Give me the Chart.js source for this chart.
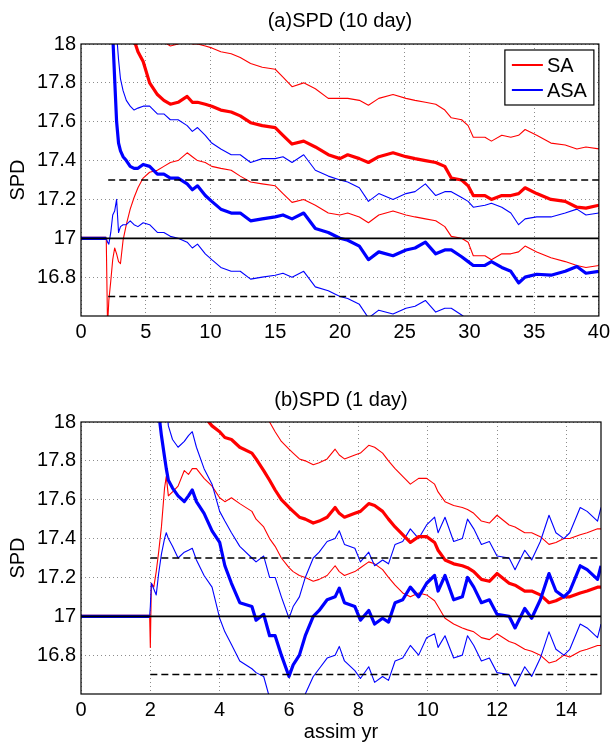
<!DOCTYPE html>
<html>
<head>
<meta charset="utf-8">
<script src="https://cdn.jsdelivr.net/npm/chart.js@4/dist/chart.umd.min.js"></script>
<style>
  html, body { margin: 0; padding: 0; background: #fff; }
  #wrap { position: relative; width: 614px; height: 742px; }
  canvas { position: absolute; left: 0; }
  #ca { top: 0; }
  #cb { top: 370px; }
</style>
</head>
<body>
<div id="wrap">
  <canvas id="ca" width="614" height="370"></canvas>
  <canvas id="cb" width="614" height="372"></canvas>
</div>
<script>
// ---------- data ----------
const TITLE_A = '(a)SPD (10 day)';
const TITLE_B = '(b)SPD (1 day)';
const Y_LABEL = 'SPD';
const X_LABEL_B = 'assim yr';
const SERIES_NAMES = ['SA', 'ASA'];

const Y_TICKS = [16.8, 17, 17.2, 17.4, 17.6, 17.8, 18];
const X_TICKS_A = [0, 5, 10, 15, 20, 25, 30, 35, 40];
const X_TICKS_B = [0, 2, 4, 6, 8, 10, 12, 14];

const TRUTH = 17;          // solid reference line
const BAND_HI = 17.3;      // dashed lines
const BAND_LO = 16.7;
const BAND_START_A = 2.1;
const BAND_START_B = 2.0;

// (a) 10-day
const X_A = [0,1.95,2.05,2.15,2.3,2.45,2.6,2.75,
 2.9,3.05,3.25,3.5,3.8,4.1,4.4,4.8,
 5.3,5.9,6.4,6.9,7.5,8.2,8.6,9.0,
 9.6,10.1,10.8,11.6,12.3,13.1,14.0,15.0,
 15.6,16.3,17.2,18.1,19.1,20.0,20.6,21.5,
 22.2,23.0,24.1,25.1,25.8,26.6,27.4,28.1,
 28.6,29.4,29.9,30.3,31.2,31.7,32.5,33.2,
 33.8,34.3,35.2,36.3,37.4,38.3,39.0,40.0];

const SA_A_MEAN = [17,17,null,null,null,null,null,null,
 null,null,null,18.4,18.15,18.02,17.96,17.91,
 17.80,17.74,17.71,17.69,17.70,17.73,17.70,17.70,
 17.69,17.68,17.66,17.65,17.63,17.595,17.58,17.57,
 17.53,17.485,17.50,17.47,17.43,17.41,17.43,17.41,
 17.39,17.42,17.44,17.42,17.41,17.40,17.39,17.37,
 17.31,17.30,17.27,17.22,17.22,17.20,17.22,17.22,
 17.23,17.26,17.23,17.20,17.19,17.16,17.155,17.17];

const SA_A_HI = [17,17,null,null,null,null,null,null,
 null,null,null,null,null,null,null,null,
 18.15,18.04,18.01,17.99,18.00,18.03,18.00,18.00,
 17.99,17.98,17.96,17.95,17.93,17.90,17.88,17.87,
 17.83,17.78,17.80,17.77,17.72,17.72,17.72,17.71,
 17.685,17.72,17.74,17.72,17.71,17.70,17.69,17.66,
 17.62,17.61,17.58,17.52,17.52,17.50,17.53,17.52,
 17.53,17.56,17.53,17.49,17.48,17.46,17.47,17.46];

const SA_A_LO = [17,17,16.55,16.68,16.78,16.89,16.95,16.92,
 16.88,16.87,16.99,17.07,17.15,17.21,17.26,17.31,
 17.34,17.35,17.37,17.39,17.40,17.44,17.42,17.40,
 17.39,17.37,17.36,17.35,17.32,17.29,17.28,17.27,
 17.23,17.185,17.20,17.17,17.13,17.12,17.13,17.11,
 17.08,17.12,17.14,17.12,17.11,17.10,17.09,17.06,
 17.01,17.00,16.98,16.91,16.91,16.89,16.92,16.92,
 16.93,16.96,16.93,16.90,16.88,16.86,16.85,16.86];

const ASA_A_MEAN = [17,17,null,null,18.5,18.05,17.82,17.6,
 17.49,17.45,17.42,17.40,17.37,17.36,17.36,17.38,
 17.37,17.33,17.33,17.31,17.31,17.28,17.25,17.27,
 17.22,17.19,17.15,17.13,17.13,17.09,17.10,17.11,
 17.12,17.10,17.13,17.05,17.03,17.00,16.99,16.96,
 16.89,16.93,16.91,16.94,16.95,16.98,16.92,16.94,
 16.94,16.905,16.88,16.86,16.86,16.88,16.85,16.83,
 16.77,16.80,16.815,16.81,16.83,16.855,16.82,16.83];

const ASA_A_HI = [17,17,null,null,null,null,18.5,18.05,
 17.92,17.82,17.76,17.71,17.68,17.66,17.67,17.68,
 17.68,17.64,17.64,17.61,17.61,17.58,17.55,17.57,
 17.53,17.49,17.46,17.43,17.43,17.39,17.41,17.41,
 17.42,17.39,17.43,17.35,17.32,17.30,17.29,17.26,
 17.19,17.23,17.20,17.23,17.24,17.28,17.22,17.24,
 17.24,17.21,17.19,17.16,17.17,17.18,17.16,17.13,
 17.07,17.10,17.11,17.11,17.13,17.15,17.12,17.13];

const ASA_A_LO = [17,17,16.98,16.97,17.03,17.12,17.14,17.20,
 17.03,17.06,17.07,17.07,17.09,17.07,17.06,17.08,
 17.07,17.03,17.03,17.01,17.00,16.98,16.95,16.97,
 16.92,16.89,16.85,16.83,16.83,16.79,16.80,16.81,
 16.82,16.80,16.83,16.75,16.73,16.70,16.69,16.66,
 16.59,16.63,16.61,16.64,16.65,16.68,16.62,16.64,
 16.64,16.605,16.58,16.56,16.56,16.58,16.55,16.53,
 16.47,16.50,16.515,16.51,16.53,16.555,16.52,16.53];

// (b) 1-day
const X_B = [0,1.98,2.0,2.03,2.1,2.17,2.24,2.32,
 2.41,2.46,2.52,2.64,2.8,2.98,3.1,3.21,
 3.33,3.55,3.78,4.0,4.15,4.34,4.58,4.93,
 5.05,5.27,5.44,5.6,5.78,6.0,6.12,6.3,
 6.47,6.7,6.87,7.1,7.33,7.45,7.6,7.9,
 8.06,8.3,8.47,8.7,8.87,9.06,9.28,9.5,
 9.74,9.97,10.2,10.3,10.5,10.75,11.0,11.15,
 11.33,11.55,11.78,12.0,12.35,12.52,12.8,13.0,
 13.25,13.5,13.7,13.93,14.1,14.4,14.6,14.9,
 15.0];

const SA_B_MEAN = [17,17,null,null,null,null,null,null,
 null,null,null,null,null,null,null,null,
 18.15,18.03,17.98,17.95,17.92,17.91,17.87,17.84,
 17.81,17.75,17.70,17.65,17.60,17.56,17.54,17.51,
 17.50,17.48,17.49,17.51,17.56,17.53,17.51,17.53,
 17.54,17.58,17.57,17.54,17.50,17.46,17.42,17.38,
 17.41,17.41,17.38,17.34,17.29,17.27,17.26,17.25,
 17.23,17.19,17.18,17.22,17.17,17.16,17.13,17.13,
 17.11,17.07,17.08,17.10,17.10,17.12,17.13,17.15,
 17.15];

const SA_B_HI = [17,17,null,null,null,null,null,null,
 null,null,null,null,null,null,null,null,
 null,null,null,null,null,null,null,null,
 null,18.1,18.0,17.95,17.90,17.86,17.84,17.81,
 17.80,17.78,17.79,17.81,17.86,17.83,17.81,17.83,
 17.84,17.88,17.87,17.84,17.80,17.76,17.72,17.68,
 17.71,17.71,17.68,17.64,17.59,17.57,17.56,17.55,
 17.53,17.49,17.48,17.52,17.47,17.46,17.43,17.43,
 17.41,17.37,17.38,17.40,17.40,17.42,17.43,17.45,
 17.45];

const SA_B_LO = [17,17,16.84,17.17,17.15,17.23,17.33,17.46,
 17.66,17.72,17.62,17.64,17.67,17.75,17.73,17.76,
 17.76,17.71,17.67,17.61,17.59,17.61,17.58,17.54,
 17.50,17.46,17.40,17.36,17.30,17.25,17.23,17.21,
 17.20,17.18,17.19,17.21,17.26,17.23,17.21,17.23,
 17.25,17.28,17.27,17.24,17.20,17.16,17.12,17.10,
 17.12,17.11,17.08,17.05,16.99,16.96,16.94,16.93,
 16.92,16.89,16.88,16.91,16.87,16.86,16.83,16.82,
 16.80,16.76,16.77,16.80,16.79,16.82,16.83,16.85,
 16.85];

const ASA_B_MEAN = [17,17,null,null,null,null,18.05,17.93,
 17.82,17.76,17.70,17.66,17.62,17.59,17.62,17.65,
 17.59,17.53,17.44,17.38,17.26,17.17,17.07,17.05,
 16.98,17.01,16.90,16.90,16.80,16.69,16.75,16.80,
 16.90,17.00,17.03,17.085,17.10,17.145,17.07,17.05,
 16.98,17.03,16.96,16.99,16.97,17.07,17.085,17.15,
 17.10,17.17,17.21,17.13,17.21,17.085,17.10,17.20,
 17.15,17.07,17.085,17.01,17.00,16.94,17.04,16.99,
 17.085,17.22,17.13,17.10,17.13,17.26,17.24,17.19,
 17.26];

const ASA_B_HI = [17,17,null,null,null,null,null,null,
 null,18.1,17.98,17.91,17.87,17.90,17.93,17.95,
 17.87,17.76,17.68,17.54,17.49,17.43,17.36,17.30,
 17.28,17.31,17.20,17.20,17.10,16.99,17.05,17.10,
 17.20,17.30,17.33,17.385,17.40,17.44,17.37,17.35,
 17.28,17.33,17.26,17.29,17.27,17.37,17.385,17.45,
 17.40,17.47,17.51,17.43,17.51,17.385,17.40,17.50,
 17.45,17.37,17.385,17.31,17.30,17.24,17.34,17.29,
 17.385,17.52,17.43,17.40,17.43,17.56,17.54,17.49,
 17.56];

const ASA_B_LO = [17,17,17.05,17.17,17.14,17.11,17.22,17.32,
 17.40,17.43,17.40,17.36,17.30,17.33,17.34,17.35,
 17.29,17.21,17.15,16.99,16.92,16.855,16.77,16.73,
 16.71,16.69,16.58,16.56,16.50,16.39,16.45,16.50,
 16.60,16.69,16.73,16.785,16.80,16.845,16.77,16.72,
 16.68,16.74,16.66,16.69,16.67,16.77,16.785,16.85,
 16.80,16.89,16.91,16.84,16.90,16.785,16.80,16.90,
 16.85,16.77,16.785,16.71,16.70,16.64,16.74,16.69,
 16.785,16.92,16.83,16.80,16.83,16.96,16.94,16.89,
 16.96];

// ---------- styling ----------
const RED = '#ff0000';
const BLUE = '#0000ff';
const FONT = '"Liberation Sans", Arial, Helvetica, sans-serif';
const FS = 20;

function pts(xs, ys) { return xs.map((x, i) => ({ x: x, y: ys[i] })); }
function hline(x0, x1, y) { return [{ x: x0, y: y }, { x: x1, y: y }]; }

function buildDatasets(X, sa, asa, bandStart) {
  const xEnd = X[X.length - 1];
  const line = (data, color, w, extra) => Object.assign({
    data: data, borderColor: color, backgroundColor: color, borderWidth: w,
    pointRadius: 0, tension: 0, fill: false, spanGaps: false, clip: 0,
    borderJoinStyle: 'round', borderCapStyle: 'butt'
  }, extra || {});
  return [
    line(hline(X[0], xEnd, TRUTH), '#000', 1.8),
    line(hline(bandStart, xEnd, BAND_HI), '#000', 1.5, { borderDash: [7, 4] }),
    line(hline(bandStart, xEnd, BAND_LO), '#000', 1.5, { borderDash: [7, 4] }),
    line(pts(X, asa[0]), BLUE, 3.2, { label: SERIES_NAMES[1] }),
    line(pts(X, sa[0]), RED, 3.2, { label: SERIES_NAMES[0] }),
    line(pts(X, asa[1]), BLUE, 1.1),
    line(pts(X, asa[2]), BLUE, 1.1),
    line(pts(X, sa[1]), RED, 1.1),
    line(pts(X, sa[2]), RED, 1.1)
  ];
}

const decor = {
  id: 'decor',
  afterDatasetsDraw(chart, args, opts) {
    const ctx = chart.ctx, ca = chart.chartArea;
    ctx.save();
    // box
    ctx.strokeStyle = '#000';
    ctx.lineWidth = 1.2;
    ctx.strokeRect(ca.left, ca.top, ca.right - ca.left, ca.bottom - ca.top);
    // title
    ctx.fillStyle = '#000';
    ctx.font = FS + 'px ' + FONT;
    ctx.textAlign = 'center';
    ctx.textBaseline = 'middle';
    ctx.fillText(opts.title, (ca.left + ca.right) / 2, opts.titleY);
    // legend
    if (opts.legend) {
      const bw = 89, bh = 55;
      const bx = ca.right - 94, by = ca.top + 6;
      ctx.fillStyle = '#fff';
      ctx.fillRect(bx, by, bw, bh);
      ctx.strokeStyle = '#000';
      ctx.lineWidth = 1.2;
      ctx.strokeRect(bx, by, bw, bh);
      const items = [[SERIES_NAMES[0], RED, by + 15], [SERIES_NAMES[1], BLUE, by + 40]];
      ctx.textAlign = 'left';
      items.forEach(function (it) {
        ctx.strokeStyle = it[1];
        ctx.lineWidth = 2;
        ctx.beginPath();
        ctx.moveTo(bx + 7, it[2]);
        ctx.lineTo(bx + 38, it[2]);
        ctx.stroke();
        ctx.fillStyle = '#000';
        ctx.fillText(it[0], bx + 42, it[2] + 1);
      });
    }
    ctx.restore();
  }
};

function fmtY(v) {
  const r = Math.round(v * 10) / 10;
  if (Math.abs(r - 16.6) < 1e-6) return '';
  return String(r);
}

function makeChart(id, X, sa, asa, bandStart, xTicks, opts) {
  const ctx = document.getElementById(id).getContext('2d');
  return new Chart(ctx, {
    type: 'line',
    data: { datasets: buildDatasets(X, sa, asa, bandStart) },
    plugins: [decor],
    options: {
      responsive: false,
      maintainAspectRatio: false,
      animation: false,
      devicePixelRatio: 1,
      layout: { padding: { left: 0, right: 13, top: opts.padTop, bottom: 0 } },
      plugins: {
        legend: { display: false },
        tooltip: { enabled: false },
        title: { display: false },
        decor: { title: opts.title, titleY: opts.titleY, legend: opts.legend }
      },
      scales: {
        x: {
          type: 'linear',
          min: X[0],
          max: X[X.length - 1],
          afterBuildTicks: function (s) { s.ticks = xTicks.map(function (v) { return { value: v }; }); },
          ticks: {
            color: '#000', font: { family: FONT, size: FS }, padding: 4,
            maxRotation: 0, autoSkip: false,
            callback: function (v) { return String(v); }
          },
          grid: { color: '#8c8c8c', lineWidth: 1, drawTicks: false },
          border: { display: false, dash: [1, 3] },
          title: {
            display: !!opts.xLabel, text: opts.xLabel || '', color: '#000',
            font: { family: FONT, size: FS, lineHeight: 1 }, padding: { top: 0, bottom: 0 }
          },
          afterFit: function (s) { s.height = opts.xHeight; }
        },
        y: {
          type: 'linear',
          min: 16.6,
          max: 18,
          afterBuildTicks: function (s) { s.ticks = Y_TICKS.map(function (v) { return { value: v }; }); },
          ticks: {
            color: '#000', font: { family: FONT, size: FS }, padding: 5,
            autoSkip: false, callback: fmtY
          },
          grid: { color: '#8c8c8c', lineWidth: 1, drawTicks: false },
          border: { display: false, dash: [1, 3] },
          title: {
            display: true, text: Y_LABEL, color: '#000',
            font: { family: FONT, size: FS, lineHeight: 1.2 }, padding: { top: 6, bottom: 0 }
          },
          afterFit: function (s) { s.width = 81; }
        }
      }
    }
  });
}

makeChart('ca', X_A, [SA_A_MEAN, SA_A_HI, SA_A_LO], [ASA_A_MEAN, ASA_A_HI, ASA_A_LO],
  BAND_START_A, X_TICKS_A,
  { padTop: 44, xHeight: 54, title: TITLE_A, titleY: 21, legend: true });

makeChart('cb', X_B, [SA_B_MEAN, SA_B_HI, SA_B_LO], [ASA_B_MEAN, ASA_B_HI, ASA_B_LO],
  BAND_START_B, X_TICKS_B,
  { padTop: 52, xHeight: 48, title: TITLE_B, titleY: 30, legend: false, xLabel: X_LABEL_B });
</script>
</body>
</html>
